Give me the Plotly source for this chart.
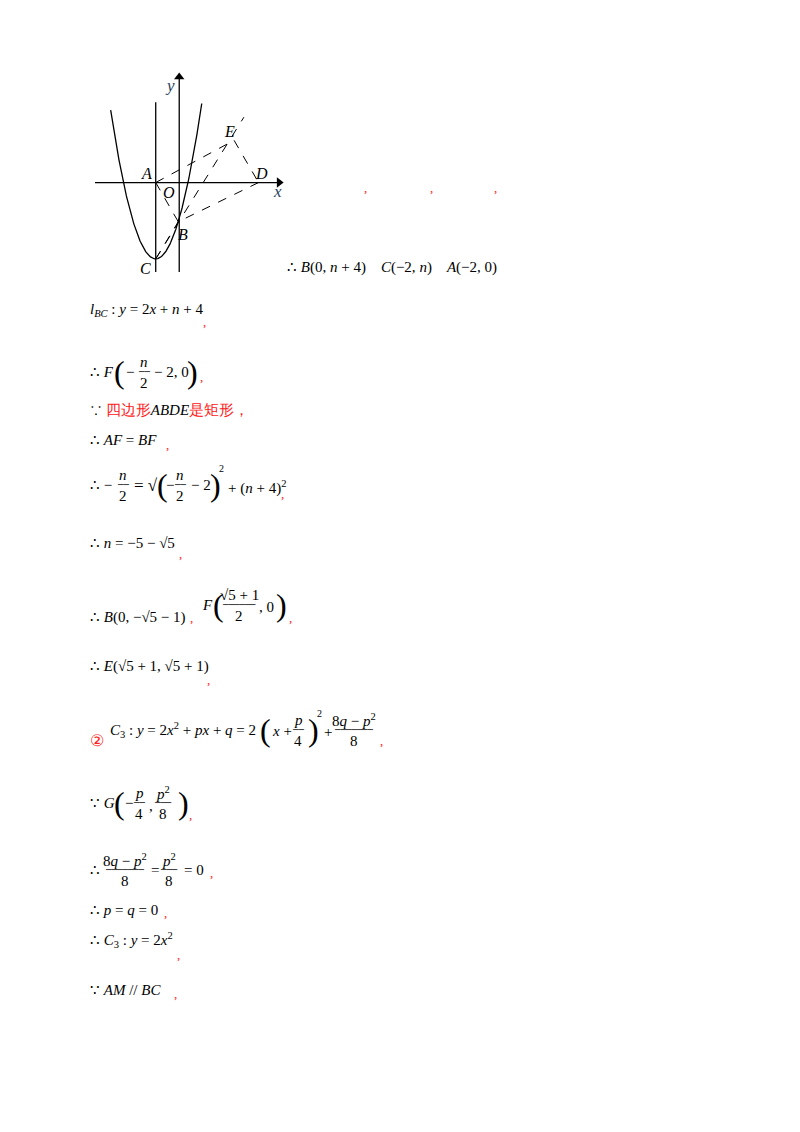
import numpy as np
import plotly.graph_objects as go

W, H = 800, 1132
OFF = 8  # default page margin of the html body
# ---- diagram data (schematic units) ----
pt_names = ["A", "O", "D", "E", "B", "C"]
pt_x = [-2.4, 0.0, 8.1, 5.6, -0.1, -2.4]
pt_y = [0.0, 0.0, 0.0, 4.2, -3.9, -7.6]
para_a, para_h, para_k = 0.7, -2.4, -7.6
para_x = np.linspace(-7.0, 2.3, 200)
dash_pairs = [("A", "E"), ("E", "D"), ("D", "B"), ("A", "B"), ("C", "B")]
ext_line_x = [-2.4, 6.6]
ext_line_y = [-7.6, 6.5]
vline_x = -2.4
vline_y = [-8.9, 8.0]
xaxis_rng = [-8.6, 10.2]
yaxis_rng = [-8.9, 10.5]

P = dict(zip(pt_names, zip(pt_x, pt_y)))
fig = go.Figure()
line = dict(color="black", width=1.3)
fig.add_trace(go.Scatter(x=para_x, y=para_a*(para_x-para_h)**2+para_k, mode="lines", line=line))
fig.add_trace(go.Scatter(x=[vline_x, vline_x], y=vline_y, mode="lines", line=line))
fig.add_trace(go.Scatter(x=xaxis_rng, y=[0, 0], mode="lines", line=line))
fig.add_trace(go.Scatter(x=[0, 0], y=yaxis_rng, mode="lines", line=line))
fig.add_trace(go.Scatter(x=[xaxis_rng[1]], y=[0], mode="markers",
                         marker=dict(symbol="triangle-right", size=9, color="black")))
fig.add_trace(go.Scatter(x=[0], y=[yaxis_rng[1]], mode="markers",
                         marker=dict(symbol="triangle-up", size=9, color="black")))
dl = dict(color="black", width=1, dash="dash")
for a, b in dash_pairs:
    fig.add_trace(go.Scatter(x=[P[a][0], P[b][0]], y=[P[a][1], P[b][1]], mode="lines", line=dl))
fig.add_trace(go.Scatter(x=ext_line_x, y=ext_line_y, mode="lines", line=dl))
lbl_off = {"A": (-0.9, 0.9), "O": (-1.0, -1.0), "D": (0.3, 0.9), "E": (-0.5, 0.9),
           "B": (0.5, -1.3), "C": (-1.0, -1.0)}
for n in pt_names:
    dx, dy = lbl_off[n]
    fig.add_annotation(x=P[n][0]+dx, y=P[n][1]+dy, text=f"<i>{n}</i>", showarrow=False,
                       font=dict(family="Liberation Serif", size=16, color="black"))
fig.add_annotation(x=xaxis_rng[1]-0.2, y=-0.9, text="<i>x</i>", showarrow=False,
                   font=dict(family="Liberation Serif", size=17))
fig.add_annotation(x=-0.9, y=yaxis_rng[1]-0.8, text="<i>y</i>", showarrow=False,
                   font=dict(family="Liberation Serif", size=17))

# ---- text blocks (pixel positions on the page) ----
R = "#ff2020"
F = "Liberation Serif"
K = "black"
texts = [
    (362, 187, ",", 13, R), (428, 187, ",", 13, R), (492, 187, ",", 13, R),
    (285, 268, "∴ <i>B</i>(0, <i>n</i> + 4)&nbsp;&nbsp;&nbsp;&nbsp;<i>C</i>(−2, <i>n</i>)&nbsp;&nbsp;&nbsp;&nbsp;<i>A</i>(−2, 0)", 15, K),
    (88, 310, "<i>l</i><sub><i>BC</i></sub> : <i>y</i> = 2<i>x</i> + <i>n</i> + 4", 15, K),
    (201, 322, ",", 13, R),
    (88, 372, "∴ <i>F</i>", 15, K), (112, 372, "(", 32, K),
    (124, 372, "−", 15, K), (152, 372, "− 2, 0", 15, K), (185, 372, ")", 32, K), (198, 376, ",", 13, R),
    (88, 410, "∵ <span style='color:#ff2020'>四边形</span><i>ABDE</i><span style='color:#ff2020'>是矩形，</span>", 15, K),
    (88, 440, "∴ <i>AF</i> = <i>BF</i>", 15, K), (164, 444, ",", 13, R),
    (88, 485, "∴ −", 15, K),
    (132, 485, "= √", 17, K), (155, 485, "(", 32, K), (164, 485, "−", 15, K),
    (189, 485, "− 2", 15, K),
    (208, 485, ")", 32, K), (217, 468, "2", 10, K),
    (226, 487, "+ (<i>n</i> + 4)<sup>2</sup>", 15, K), (279, 494, ",", 13, R),
    (88, 543, "∴ <i>n</i> = −5 − √5", 15, K), (177, 553, ",", 13, R),
    (88, 617, "∴ <i>B</i>(0, −√5 − 1)", 15, K), (188, 617, ",", 13, R),
    (200, 605, "<i>F</i>", 15, K), (211, 605, "(", 32, K),
    (257, 607, ", 0", 15, K),
    (274, 605, ")", 32, K), (287, 617, ",", 13, R),
    (88, 666, "∴ <i>E</i>(√5 + 1, √5 + 1)", 15, K), (205, 679, ",", 13, R),
    (88, 740, "②", 16, R),
    (108, 730, "<i>C</i><sub>3</sub> : <i>y</i> = 2<i>x</i><sup>2</sup> + <i>px</i> + <i>q</i> = 2", 15, K),
    (258, 730, "(", 32, K), (270, 731, "<i>x</i> +", 15, K),
    (306, 730, ")", 32, K),
    (315, 713, "2", 10, K), (322, 732, "+", 15, K), (378, 740, ",", 13, R),
    (88, 803, "∵ <i>G</i>", 15, K), (112, 803, "(", 32, K), (123, 803, "−", 15, K),
    (147, 806, ",", 15, K), (176, 803, ")", 32, K),
    (187, 814, ",", 13, R),
    (88, 870, "∴", 15, K),
    (149, 870, "=", 15, K), (182, 870, "= 0", 15, K), (208, 872, ",", 13, R),
    (88, 910, "∴ <i>p</i> = <i>q</i> = 0", 15, K), (162, 912, ",", 13, R),
    (88, 940, "∴ <i>C</i><sub>3</sub> : <i>y</i> = 2<i>x</i><sup>2</sup>", 15, K), (175, 955, ",", 13, R),
    (88, 990, "∵ <i>AM</i> // <i>BC</i>", 15, K), (172, 993, ",", 13, R),
]
# fractions: center x, center y, numerator, denominator, bar length (chars)
fracs = [
    (144, 372, "<i>n</i>", "2", 2),
    (123, 485, "<i>n</i>", "2", 2), (180, 485, "<i>n</i>", "2", 2),
    (239, 605, "√5 + 1", "2", 6),
    (298, 730, "<i>p</i>", "4", 2), (354, 730, "8<i>q</i> − <i>p</i><sup>2</sup>", "8", 7),
    (139, 803, "<i>p</i>", "4", 2), (163, 803, "<i>p</i><sup>2</sup>", "8", 3),
    (125, 870, "8<i>q</i> − <i>p</i><sup>2</sup>", "8", 7), (169, 870, "<i>p</i><sup>2</sup>", "8", 3),
]
for x, y, t, s, c in texts:
    fig.add_annotation(x=(x-OFF)/W, y=1-(y-OFF)/H, xref="paper", yref="paper", text=t, showarrow=False,
                       xanchor="left", yanchor="middle", font=dict(family=F, size=s, color=c))
for cx, cy, num, den, nb in fracs:
    for dy, t, fam, s in [(-10, num, F, 15), (0, "─" * nb, "DejaVu Sans Mono", 9), (11, den, F, 15)]:
        fig.add_annotation(x=(cx-OFF)/W, y=1-(cy+dy-OFF)/H, xref="paper", yref="paper", text=t,
                           showarrow=False, xanchor="center", yanchor="middle",
                           font=dict(family=fam, size=s, color=K))

fig.update_layout(
    width=W, height=H, margin=dict(l=0, r=0, t=0, b=0), showlegend=False,
    paper_bgcolor="white", plot_bgcolor="white",
    xaxis=dict(domain=[(95-OFF)/W, (285-OFF)/W], range=[-8.6, 10.8], visible=False),
    yaxis=dict(domain=[1-(278-OFF)/H, 1-(72-OFF)/H], range=[-9.5, 11.0], visible=False),
)
fig.write_html("out.html")
